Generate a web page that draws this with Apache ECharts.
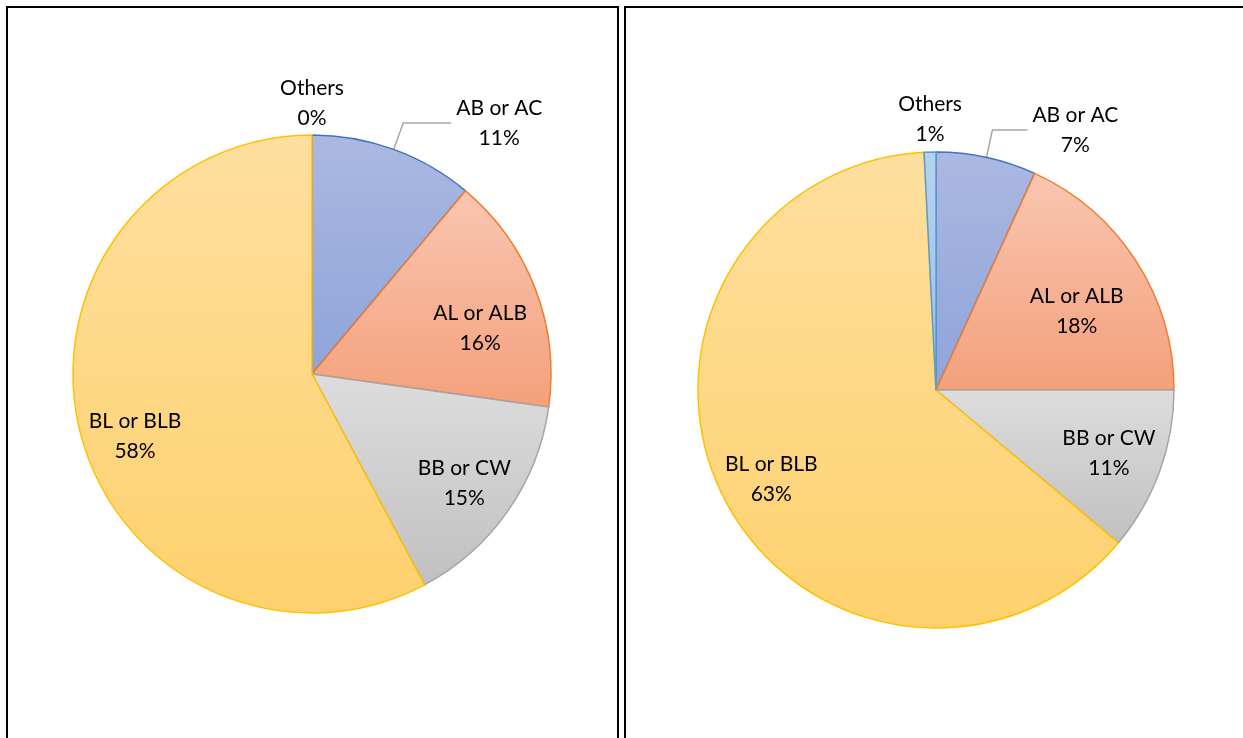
<!DOCTYPE html>
<html>
<head>
<meta charset="utf-8">
<script src="https://cdn.jsdelivr.net/npm/echarts@6/dist/echarts.min.js"></script>
<style>
  html, body { margin: 0; padding: 0; background: #ffffff; }
  #chart { width: 1243px; height: 738px; }
</style>
</head>
<body>
<div id="chart"></div>
<script>
  // categories, clockwise from 12 o'clock
  const categories = ['AB or AC', 'AL or ALB', 'BB or CW', 'BL or BLB', 'Others']
  // percent shares
  const leftValues = [11.1, 16.1, 15.0, 57.8, 0]
  const rightValues = [6.8, 18.2, 11.1, 63.1, 0.8]

  const fills = [
    ['#abb8e1', '#8ea4da'],
    ['#f9c6b1', '#f4a07b'],
    ['#dddddd', '#c0c0c0'],
    ['#fedf9f', '#fed16d'],
    ['#b6d2ed', '#9cc2e6']
  ]
  const borders = ['#4472c4', '#ed7d31', '#a5a5a5', '#ffc000', '#5b9bd5']
  const insideNames = ['AL or ALB', 'BB or CW', 'BL or BLB']

  // nudges so the inside labels sit where Excel put them
  const leftNudge = { 'AL or ALB': [-4, 21], 'BB or CW': [1, 4], 'BL or BLB': [2, 17] }
  const rightNudge = { 'AL or ALB': [-14, 21], 'BB or CW': [0, 0], 'BL or BLB': [0, 7] }

  const font = 'Lato, "Open Sans", sans-serif'
  const fs = 21

  function grad(i) {
    return new echarts.graphic.LinearGradient(0, 0, 0, 1, [
      { offset: 0, color: fills[i][0] },
      { offset: 1, color: fills[i][1] }
    ])
  }

  function fmt(p) {
    return '{a|' + p.name + '}\n{a|' + Math.round(p.percent) + '%}'
  }

  const textStyle = {
    formatter: fmt,
    color: '#000000',
    fontFamily: font,
    fontSize: fs,
    lineHeight: 30,
    rich: { a: { align: 'center', fontFamily: font, fontSize: fs, lineHeight: 30, color: '#000000' } }
  }

  function slices(values, len2) {
    return categories.map(function (name, i) {
      const d = {
        name: name,
        value: values[i],
        itemStyle: { color: grad(i), borderColor: borders[i], borderWidth: values[i] > 0 ? 1.5 : 0 },
        label: { show: name === 'AB or AC' || name === 'Others' },
        labelLine: { show: name === 'AB or AC' }
      }
      if (name === 'AB or AC') {
        d.labelLine.length = 28
        d.labelLine.length2 = len2
      }
      return d
    })
  }

  function labelsOnly(values) {
    return categories.map(function (name, i) {
      return {
        name: name,
        value: values[i],
        label: { show: insideNames.indexOf(name) >= 0 }
      }
    })
  }

  function mainSeries(center, r, values, len2) {
    return {
      type: 'pie',
      center: center,
      radius: r,
      startAngle: 90,
      clockwise: true,
      percentPrecision: 1,
      silent: true,
      animation: false,
      label: Object.assign({ position: 'outside' }, textStyle),
      labelLine: {
        length: 8,
        length2: 0,
        smooth: false,
        lineStyle: { color: '#a6a6a6', width: 1.5 }
      },
      labelLayout: function (p) {
        if (categories[p.dataIndex] === 'Others') {
          // centre the label just above the top of its slice
          const mid = p.rect.x + p.rect.width / 2
          return {
            dx: mid - (p.labelRect.x + p.labelRect.width / 2),
            dy: (p.rect.y - 32) - (p.labelRect.y + p.labelRect.height / 2)
          }
        }
        return {}
      },
      data: slices(values, len2)
    }
  }

  function insideSeries(center, r, values, nudge) {
    return {
      type: 'pie',
      center: center,
      radius: [Math.round(r * 0.52), r],
      startAngle: 90,
      clockwise: true,
      percentPrecision: 1,
      silent: true,
      animation: false,
      itemStyle: { color: 'rgba(0,0,0,0)', borderWidth: 0 },
      label: Object.assign({ position: 'inside' }, textStyle),
      labelLine: { show: false },
      labelLayout: function (p) {
        const n = nudge[categories[p.dataIndex]]
        return n ? { dx: n[0], dy: n[1] } : {}
      },
      data: labelsOnly(values)
    }
  }

  const chart = echarts.init(document.getElementById('chart'), null, { renderer: 'canvas' })
  chart.setOption({
    backgroundColor: '#ffffff',
    graphic: [
      {
        type: 'rect',
        shape: { x: 7, y: 7, width: 611, height: 760 },
        style: { fill: 'none', stroke: '#000000', lineWidth: 2 }
      },
      {
        type: 'rect',
        shape: { x: 625, y: 7, width: 700, height: 760 },
        style: { fill: 'none', stroke: '#000000', lineWidth: 2 }
      }
    ],
    series: [
      mainSeries([312, 374], 239, leftValues, 48),
      insideSeries([312, 374], 239, leftValues, leftNudge),
      mainSeries([936, 390], 238, rightValues, 35),
      insideSeries([936, 390], 238, rightValues, rightNudge)
    ]
  })
</script>
</body>
</html>
